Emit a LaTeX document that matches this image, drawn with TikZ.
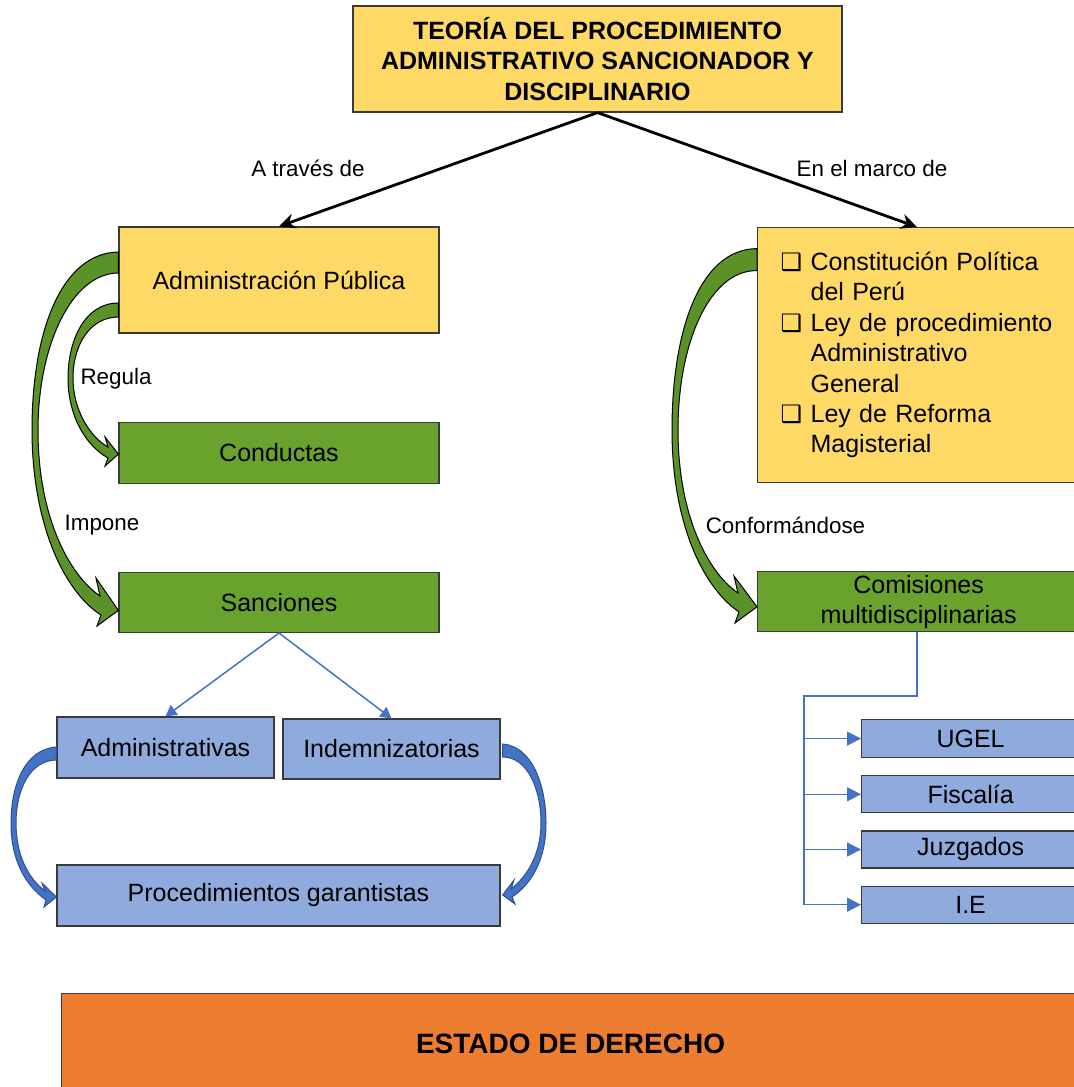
\documentclass[tikz,border=0pt]{standalone}
\usepackage{fontspec}
\setmainfont{Liberation Sans}
\newfontfamily\symfont{DejaVu Sans}
\usetikzlibrary{arrows.meta,positioning,calc}
\definecolor{esyellow}{HTML}{FFD966}
\definecolor{esgreen}{HTML}{6AA22E}
\definecolor{esbend}{HTML}{5A9229}
\definecolor{esblue}{HTML}{8FAADC}
\definecolor{esline}{HTML}{4472C4}
\definecolor{esbluedark}{HTML}{2F528F}
\definecolor{esorange}{HTML}{ED7D31}
\definecolor{esedge}{HTML}{3A3A3A}
\newcommand{\bx}{\makebox[15pt][l]{\symfont\fontsize{12}{13}\selectfont ❑}}
\tikzset{
  baseBox/.style={draw=esedge, line width=0.6pt, align=center, inner sep=0pt, font=\fontsize{12.5}{15.2}\selectfont},
  yellowBox/.style={baseBox, fill=esyellow},
  greenBox/.style={baseBox, fill=esgreen},
  blueBox/.style={baseBox, fill=esblue},
  orangeBox/.style={baseBox, fill=esorange, font=\fontsize{14}{17}\selectfont\bfseries},
  mainArrow/.style={-{Stealth[length=8pt,width=7.5pt]}, line width=1.4pt, draw=black},
  thinArrow/.style={-{Triangle[length=5.5pt,width=6pt]}, line width=0.75pt, draw=esline},
  treeLine/.style={line width=1pt, draw=esline},
  treeArrow/.style={-{Triangle[length=7pt,width=7pt]}, line width=0.7pt, draw=esline},
  greenBend/.style={fill=esbend, draw=black, line width=0.5pt},
  blueBend/.style={fill=esline, draw=esbluedark, line width=0.5pt},
  linkLabel/.style={font=\fontsize{11.2}{13}\selectfont}
}
\begin{document}
\begin{tikzpicture}[x=0.5pt, y=-0.5pt, node distance=44pt]
  \useasboundingbox (0,0) rectangle (1074,1087);
  \clip (0,0) rectangle (1074,1087);

  % upper boxes
  \node[yellowBox, minimum width=244.5pt, minimum height=53pt, font=\fontsize{12.5}{15.2}\selectfont\bfseries] (title) at (597.5,59) {TEORÍA DEL PROCEDIMIENTO\\ADMINISTRATIVO SANCIONADOR Y\\DISCIPLINARIO};
  \node[yellowBox, minimum width=160pt, minimum height=53pt] (admin) at (279,280) {Administración Pública};
  \node[greenBox, minimum width=160pt, minimum height=30.5pt, below=of admin] (conductas) {Conductas};
  \node[greenBox, minimum width=160pt, minimum height=30pt, below=of conductas] (sanciones) {Sanciones};
  \node[yellowBox, anchor=north west, align=left, text width=138pt, inner xsep=11.5pt, minimum height=127.5pt] (marco) at (757,227)
    {\bx Constitución Política\\\hspace*{15pt}del Perú\\\bx Ley de procedimiento\\\hspace*{15pt}Administrativo\\\hspace*{15pt}General\\\bx Ley de Reforma\\\hspace*{15pt}Magisterial};
  \node[greenBox, minimum width=161pt, minimum height=30pt, below=of marco] (comisiones) {Comisiones\\multidisciplinarias};

  % lower boxes
  \node[blueBox, minimum width=108.5pt, minimum height=30.5pt] (adminv) at (165.5,747.5) {Administrativas};
  \node[blueBox, minimum width=108.5pt, minimum height=30pt] (indem) at (391.5,749) {Indemnizatorias};
  \node[blueBox, minimum width=221.5pt, minimum height=30.5pt] (proc) at (278.5,895.5) {Procedimientos garantistas};
  \node[blueBox, anchor=north west, minimum width=109pt, minimum height=19pt] (ugel) at (861,719) {UGEL};
  \node[blueBox, minimum width=109pt, minimum height=18.5pt, below=8.5pt of ugel] (fiscalia) {Fiscalía};
  \node[blueBox, minimum width=109pt, minimum height=18.5pt, below=8.5pt of fiscalia] (juzgados) {Juzgados};
  \node[blueBox, minimum width=109pt, minimum height=18.5pt, below=8.5pt of juzgados] (ie) {I.E};
  \node[orangeBox, anchor=north west, minimum width=509pt, minimum height=50pt] (estado) at (61,993) {ESTADO DE DERECHO};

  % labels
  \node[linkLabel] (lblvia) at (308,168) {A través de};
  \node[linkLabel] (lblmarco) at (872,168) {En el marco de};
  \node[linkLabel] (lblregula) at (116,379) {Regula};
  \node[linkLabel] (lblimpone) at (102,525) {Impone};
  \node[linkLabel] (lblconf) at (785.5,525) {Conformándose};

  \draw[mainArrow] (title.south) -- (admin.north);
  \draw[mainArrow] (title.south) -- (marco.north -| 917,0);
  \draw[thinArrow] (sanciones.south) -- (adminv.north);
  \draw[thinArrow] (sanciones.south) -- (indem.north);

  % bent block arrows
  \draw[greenBend] ($(admin.west)+(0,-28)$) .. controls (62,253) and (32,330) .. (32,430)
    .. controls (32,520) and (62,590) .. (101,615) -- (97,626) -- ($(sanciones.west)+(0,8)$) -- (96,578) -- (100,596)
    .. controls (68,574) and (38,515) .. (38,430) .. controls (38,345) and (72,273) .. ($(admin.west)+(0,-7)$) -- cycle;
  \draw[greenBend] ($(admin.west)+(0,23)$) .. controls (85,303) and (68,340) .. (68,378)
    .. controls (68,415) and (85,445) .. (108,458) -- (105,466) -- ($(conductas.west)+(0,1.5)$) -- (105,437) -- (108,447)
    .. controls (90,437) and (73,410) .. (73,378) .. controls (73,345) and (90,317) .. ($(admin.west)+(0,37)$) -- cycle;
  \draw[greenBend] ($(marco.west)+(0,-106.5)$) .. controls (700,249) and (672,330) .. (672,430)
    .. controls (672,518) and (700,585) .. (739,612) -- (735,623) -- ($(comisiones.west)+(0,5)$) -- (734,576) -- (738,593)
    .. controls (706,571) and (678,512) .. (678,430) .. controls (678,342) and (710,270) .. ($(marco.west)+(0,-84.5)$) -- cycle;
  \draw[blueBend] ($(adminv.west)+(0,-0.5)$) .. controls (25,749) and (11,785) .. (11,823)
    .. controls (11,860) and (25,885) .. (46,900) -- (44,907) -- ($(proc.west)+(0,1.5)$) -- (42,883) -- (45,891)
    .. controls (28,878) and (16,855) .. (16,823) .. controls (16,790) and (30,760) .. ($(adminv.west)+(0,12.5)$) -- cycle;
  \draw[blueBend] ($(indem.east)+(2,-5)$) .. controls (532,746) and (546,785) .. (546,823)
    .. controls (546,858) and (533,883) .. (512,897) -- (515,904) -- ($(proc.east)+(2,-0.5)$) -- (514,880) -- (511,889)
    .. controls (528,876) and (541,853) .. (541,823) .. controls (541,790) and (528,757) .. ($(indem.east)+(2,8)$) -- cycle;

  % tree of commissions
  \coordinate (spine) at (804,696);
  \draw[treeLine] (comisiones.south -| 917,0) |- (spine) -- (spine |- ie.west);
  \foreach \n in {ugel,fiscalia,juzgados,ie}
    \draw[treeArrow] (spine |- \n.west) -- (\n.west);
\end{tikzpicture}
\end{document}
